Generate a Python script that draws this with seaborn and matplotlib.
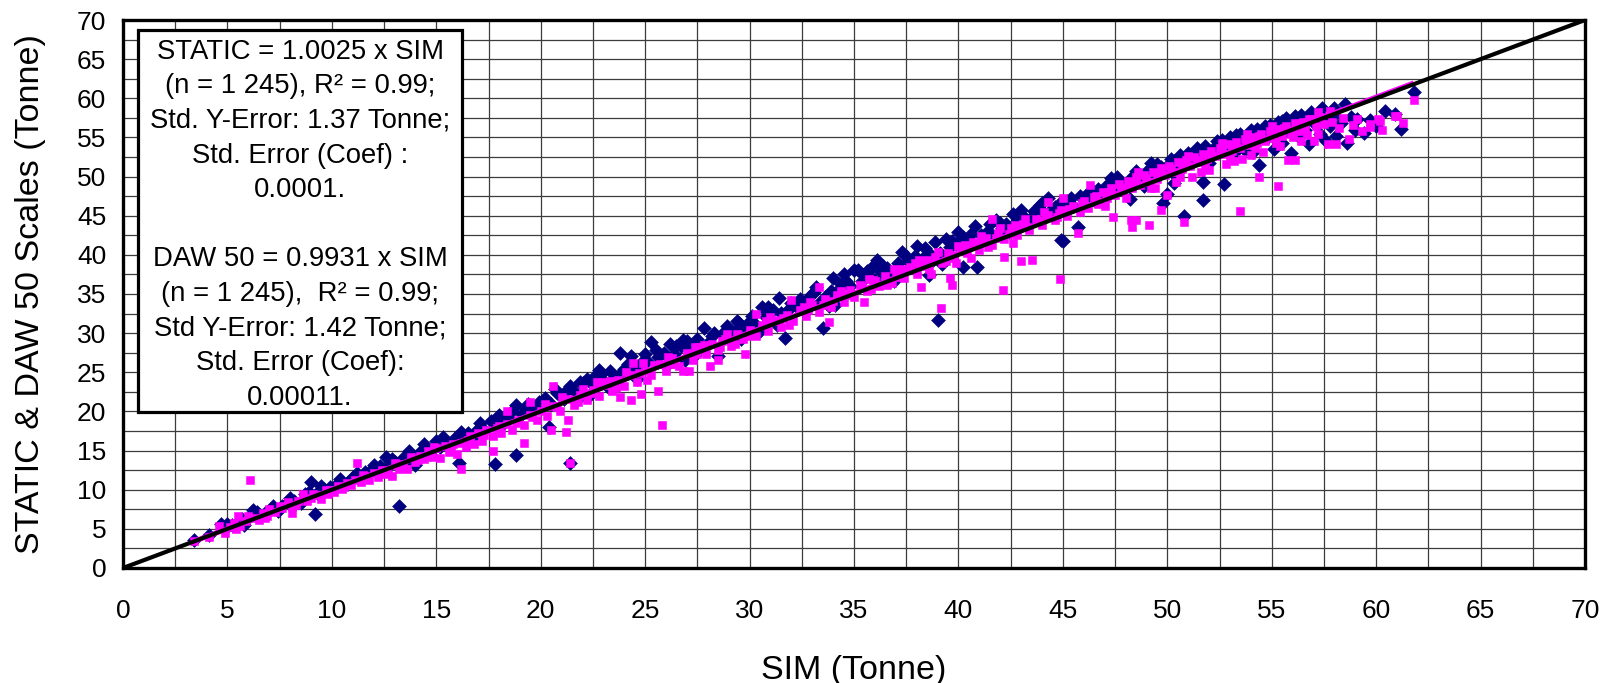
import numpy as np
import pandas as pd
import matplotlib
matplotlib.use("Agg")
import matplotlib.pyplot as plt
from matplotlib.patches import Rectangle
import seaborn as sns

# ---------------- data ----------------
static_sim = [
    3.4, 4.1, 4.7, 4.9, 5.2, 5.5, 5.8, 6.0, 6.2, 6.5, 6.8, 7.1, 7.4, 7.6, 7.9, 8.2, 8.5, 8.7, 9.0, 9.2, 9.3, 9.6, 9.9,
    10.2, 10.5, 10.8, 11.0, 11.3, 11.6, 11.9, 12.1, 12.3, 12.6, 12.8, 13.0, 13.2, 13.4, 13.6, 13.8, 14.0, 14.2, 14.5, 14.7,
    15.0, 15.2, 15.4, 15.7, 15.9, 16.1, 16.3, 16.5, 16.8, 17.0, 17.3, 17.6, 17.8, 18.0, 18.2, 18.5, 18.8, 18.8, 19.1, 19.4, 19.7, 19.9,
    20.2, 20.4, 20.5, 20.8, 21.1, 21.4, 21.4, 21.7, 22.0, 22.2, 22.3, 22.5, 22.8, 23.0, 23.3, 23.5, 23.8, 24.0, 24.3, 24.5,
    24.8, 25.1, 25.3, 25.6, 25.9, 26.0, 26.2, 26.4, 26.7, 27.0, 27.2, 27.5, 27.8, 28.0, 28.3, 28.5, 28.7, 29.0, 29.3, 29.5,
    29.6, 29.8, 30.0, 30.3, 30.6, 30.8, 31.1, 31.3, 31.4, 31.7, 31.9, 32.2, 32.5, 32.7, 33.0, 33.1, 33.5, 33.6, 33.9, 34.0,
    34.1, 34.3, 34.5, 34.8, 35.0,
    35.2, 35.4, 35.6, 35.8, 36.1, 36.3, 36.6, 36.8, 37.1, 37.3, 37.6, 37.8, 38.0, 38.3, 38.6, 38.6, 38.9, 39.0, 39.1, 39.4,
    39.6, 39.9, 40.2, 40.2, 40.5, 40.8, 40.9, 41.1, 41.4, 41.6, 41.8, 42.1, 42.3, 42.6, 42.8, 43.1, 43.3, 43.6, 43.9, 44.1,
    44.3, 44.6, 44.9, 44.9, 45.0, 45.2, 45.5, 45.7, 45.8,
    46.0, 46.2, 46.5, 46.7, 46.9, 47.1, 47.3, 47.5, 47.7, 47.9, 48.2, 48.2, 48.4, 48.6, 48.8, 49.0, 49.2, 49.5, 49.4, 49.7,
    49.8, 49.9, 50.0, 50.1, 50.3, 50.3, 50.5, 50.7, 50.8, 50.9, 51.1, 51.3, 51.5, 51.7, 51.7, 51.7, 51.9, 52.1, 52.3, 52.5,
    52.7, 52.7, 52.9, 53.1, 53.2, 53.4, 53.6, 53.8, 54.0, 54.1, 54.2, 54.4, 54.4, 54.6, 54.8, 55.0, 55.1, 55.2, 55.4, 55.5,
    55.6, 55.8, 55.9, 56.0, 56.2, 56.3, 56.5, 56.7, 56.8, 57.0, 57.2, 57.3,
    50.6, 51.4, 52.4, 53.0, 53.5, 54.3, 54.9, 55.3, 55.7, 56.4,
    57.5, 57.6, 57.8, 58.0, 58.1, 58.3, 58.5, 58.6, 58.8, 59.0, 59.1, 59.4, 59.7, 60.0, 60.4, 60.9, 61.2, 61.8, 57.4, 58.0,
]
static_scale = [
    3.6, 4.2, 5.6, 5.0, 5.5, 5.9, 5.5, 6.4, 7.4, 6.8, 7.0, 7.5, 7.3, 7.9, 8.4, 8.6, 8.3, 9.4, 11.0, 6.9, 9.6, 10.1, 10.3,
    10.6, 11.0, 11.1, 11.6, 11.5, 12.2, 12.6, 12.3, 13.0, 14.2, 13.2, 13.6, 7.9, 14.0, 13.5, 14.5, 13.1, 14.8, 15.2, 14.6,
    16.2, 15.4, 16.0, 15.9, 16.6, 13.4, 16.5, 17.3, 16.9, 17.8, 17.6, 18.8, 13.3, 19.6, 18.4, 19.1, 14.4, 20.8, 19.7, 20.9, 20.2, 21.2,
    21.7, 18.0, 21.0, 22.4, 21.6, 13.4, 23.2, 22.3, 23.6, 24.2, 22.0, 23.4, 25.3, 24.0, 25.1, 24.3, 27.4, 25.4, 27.1, 25.6,
    26.2, 26.5, 28.9, 26.9, 27.4, 25.8, 28.6, 27.3, 28.3, 29.0, 28.1, 29.2, 30.7, 28.8, 30.0, 27.1, 29.9, 30.4, 30.1, 31.3,
    29.3, 30.8, 31.5, 31.0, 33.3, 32.0, 33.0, 31.0, 34.5, 29.4, 33.1, 33.5, 33.2, 34.2, 35.0, 35.2, 30.6, 34.6, 35.4, 37.1,
    33.6, 35.6, 37.5, 36.0, 38.1,
    38.1, 36.7, 38.0, 37.2, 39.3, 37.8, 38.3, 37.6, 39.0, 40.4, 39.2, 38.9, 41.1, 39.6, 37.4, 40.3, 41.6, 31.7, 40.2, 42.0,
    41.0, 41.4, 38.4, 42.3, 41.8, 43.7, 38.4, 42.6, 43.1, 42.1, 44.4, 43.4, 44.0, 45.2, 44.3, 44.9, 44.0, 45.6, 46.4, 45.4,
    47.2, 46.1, 41.9, 46.7, 41.8, 46.9, 46.2, 43.6, 47.5,
    47.2, 47.9, 47.0, 48.4, 47.8, 48.9, 49.8, 48.4, 49.3, 48.9, 47.1, 49.7, 49.2, 50.3, 49.9, 50.6, 51.7, 51.6, 50.2, 51.2,
    46.6, 50.8, 47.8, 51.6, 49.2, 52.0, 51.4, 52.2, 45.0, 51.9, 52.6, 52.0, 53.0, 47.0, 49.3, 52.7, 53.4, 52.9, 53.8, 53.3,
    49.0, 54.2, 53.7, 54.5, 53.0, 54.8, 54.1, 55.1, 54.5, 53.2, 55.4, 51.5, 54.9, 55.8, 55.1, 56.0, 53.5, 55.4, 56.4, 54.3,
    55.7, 56.8, 53.0, 56.1, 57.2, 55.0, 56.6, 57.6, 54.2, 56.9, 58.0, 55.5,
    52.7, 53.6, 54.6, 55.0, 55.4, 56.1, 56.6, 57.0, 57.5, 57.9,
    57.3, 54.5, 56.5, 57.9, 55.2, 56.8, 59.3, 54.3, 57.6, 56.0, 57.4, 55.6, 57.2, 56.5, 58.4, 58.0, 56.1, 60.8, 58.8, 58.7,
]
# further STATIC points read along the dense band
static_sim_band = [
    20.0, 21.2, 22.6, 23.9, 25.0, 26.5, 27.6, 28.9, 30.1, 31.5, 32.4, 33.3, 34.6, 23.2, 27.4, 30.5, 24.6, 29.1,
    35.5, 36.4, 37.0, 37.9, 38.8, 39.7, 40.6, 41.3, 42.0, 42.9, 43.5, 44.4, 36.0, 39.3, 42.4,
    45.4, 46.4, 47.6, 48.5, 49.3, 50.2, 51.0, 51.8, 52.6, 53.3, 54.0, 54.7, 55.5, 56.1, 56.9, 48.9, 50.4, 52.0,
    53.7, 55.3, 56.6,
    5.0, 5.7, 6.4, 7.2, 8.0, 8.9, 9.5, 10.4, 11.2, 12.0, 12.9, 13.7, 14.4, 15.3, 16.2, 17.1, 17.9, 18.6, 19.3,
    20.7, 21.9, 22.9, 24.2, 25.5, 26.8, 28.2, 29.4, 30.9, 32.0, 33.2, 34.4, 35.9, 37.5, 38.4, 40.0, 41.5, 43.0,
    44.0, 39.2, 36.9, 33.8, 26.9, 21.8,
]
static_scale_band = [
    20.6, 22.6, 24.5, 25.0, 27.3, 28.4, 28.6, 30.9, 32.2, 32.6, 34.4, 33.9, 36.7, 23.1, 27.2, 30.3, 24.2, 29.0,
    37.4, 38.6, 37.9, 39.9, 39.4, 41.8, 42.7, 41.9, 44.1, 45.3, 44.8, 45.6, 36.6, 39.6, 42.9,
    47.3, 48.3, 50.0, 50.7, 51.0, 52.3, 53.0, 53.9, 54.7, 55.3, 55.9, 56.4, 57.1, 57.7, 58.3, 48.8, 50.1, 51.7,
    53.4, 54.9, 56.0,
    5.6, 6.2, 7.1, 7.9, 8.9, 9.7, 10.5, 11.4, 12.1, 13.1, 13.9, 14.9, 15.8, 16.7, 17.4, 18.5, 19.2, 20.1, 20.3,
    22.9, 23.8, 24.8, 26.0, 27.8, 29.1, 29.6, 31.6, 33.4, 33.9, 35.9, 36.3, 38.6, 39.8, 40.9, 42.9, 44.0, 45.7,
    46.6, 38.8, 36.6, 33.5, 26.6, 21.6,
]

daw_sim = [
    3.4, 4.1, 4.6, 4.9, 5.1, 5.3, 5.5, 5.6, 5.9, 6.1, 6.3, 6.5, 6.7, 6.9, 7.0, 7.3, 7.6, 7.9, 8.1, 8.1, 8.4, 8.6, 8.8, 9.0,
    9.3, 9.5, 9.7, 9.9,
    10.1, 10.3, 10.5, 10.7, 10.9, 11.1, 11.2, 11.4, 11.6, 11.8, 12.0, 12.2, 12.4, 12.7, 12.9, 13.0, 13.2, 13.4, 13.6, 13.8,
    14.0, 14.2, 14.4, 14.6, 14.8, 15.0, 15.2, 15.4, 15.6, 15.8, 16.0, 16.2, 16.2, 16.4, 16.6, 16.8, 17.0, 17.2, 17.4, 17.7,
    17.7, 17.9, 18.1, 18.4, 18.4, 18.6, 18.9, 19.2, 19.2, 19.5, 19.5, 19.8,
    20.0, 20.3, 20.5, 20.6, 20.6, 20.9, 21.2, 21.3, 21.4, 21.3, 21.6, 21.9, 22.2, 22.5, 22.8, 23.1, 23.4, 23.8, 23.7, 24.0,
    24.3, 24.3, 24.4, 24.6, 24.8, 24.9, 25.0, 25.3, 25.6, 25.8, 25.7, 26.0, 26.3, 26.6, 26.8, 27.0, 27.1, 27.3, 27.6, 27.9,
    28.1, 28.2, 28.5, 28.5, 28.8, 29.1, 29.4, 29.8, 29.7, 30.0, 30.3, 30.3, 30.6, 30.9, 31.2, 31.5, 31.8, 32.0, 32.1, 32.4,
    32.7, 33.0, 33.3, 33.3, 33.8, 33.6, 33.9, 34.2, 34.5, 34.8,
    21.0, 22.7, 24.1, 26.1, 27.4, 28.9, 31.0, 32.9, 34.4,
    35.0, 35.3, 35.5, 35.6, 35.9, 36.2, 36.5, 36.8, 37.1, 37.4, 37.7, 38.0, 38.2, 38.3, 38.6, 38.9, 39.15, 39.2, 39.5, 39.6,
    39.7, 39.8, 40.1, 40.4, 40.7, 41.0, 41.3, 41.6, 41.6, 41.9, 42.15, 42.2, 42.2, 42.5, 42.8, 43.0, 43.1, 43.4, 43.5, 43.7,
    44.0, 44.3, 44.3, 44.6, 44.86, 44.9, 45.0, 45.2, 45.5, 45.7, 45.8,
    35.7, 36.9, 38.1, 39.0, 40.0, 41.1, 42.0, 43.2, 44.1, 38.7, 40.6, 42.6,
    46.0, 46.2, 46.3, 46.5, 46.7, 46.9, 47.1, 47.4, 47.3, 47.5, 47.7, 47.9, 48.1, 48.26, 48.3, 48.3, 48.5, 48.5, 48.6, 48.7,
    48.9, 49.1, 49.1, 49.3, 49.5, 49.7, 49.7, 49.9, 50.0, 50.1, 50.3, 50.5, 50.7, 50.8, 50.9, 51.1, 51.3, 51.5, 51.7, 51.9,
    52.1, 52.3, 52.5, 52.7, 52.9, 53.1, 53.3, 53.5, 53.5, 53.7, 53.9, 54.0, 54.1, 54.3, 54.4, 54.5, 54.7, 54.9, 55.1, 55.3,
    55.3, 55.5, 55.7, 55.8, 55.9, 56.1, 56.1, 56.3, 56.5, 56.7, 56.9, 57.0, 57.1, 57.3,
    47.0, 48.0, 49.4, 50.4, 51.2, 51.6, 52.0, 52.8, 53.2, 53.6, 54.6, 55.4, 56.4, 51.0, 52.6, 53.8, 55.0,
    57.5, 57.7, 57.9, 58.1, 58.2, 58.4, 58.7, 58.9, 59.1, 59.3, 59.7, 59.7, 60.1, 60.2, 60.3, 60.9, 61.0, 61.3, 61.8,
    57.2, 57.8,
]
daw_scale = [
    3.5, 3.9, 5.4, 4.5, 5.2, 5.7, 6.6, 5.4, 6.0, 11.3, 6.4, 6.1, 7.0, 6.6, 7.5, 7.1, 7.6, 8.4, 7.0, 7.8, 8.6, 9.4, 8.5, 8.9,
    9.3, 8.8, 9.9, 10.0,
    9.7, 10.5, 10.1, 10.9, 10.6, 11.2, 13.4, 11.0, 11.7, 11.3, 12.1, 11.6, 12.5, 12.0, 11.8, 13.4, 12.7, 13.3, 12.6, 14.2,
    13.5, 14.3, 13.9, 14.9, 14.2, 15.3, 14.1, 15.6, 14.8, 15.9, 14.5, 12.6, 16.0, 15.4, 16.8, 15.9, 17.2, 16.2, 17.6, 14.9,
    16.9, 17.9, 17.3, 20.0, 18.4, 17.6, 18.9, 16.0, 18.3, 21.2, 19.5, 18.9,
    20.1, 19.4, 17.6, 23.2, 20.7, 20.1, 17.4, 18.9, 13.4, 21.6, 20.8, 22.1, 21.4, 22.8, 22.0, 23.4, 22.6, 21.9, 24.0, 23.2,
    21.5, 24.6, 26.2, 23.8, 22.2, 26.2, 25.2, 24.6, 22.6, 18.3, 26.0, 25.2, 26.8, 25.8, 25.2, 27.4, 25.1, 26.6, 28.2, 27.3,
    25.8, 28.6, 26.6, 27.8, 29.2, 28.4, 29.9, 27.3, 29.2, 30.4, 32.4, 29.6, 31.1, 30.3, 31.7, 30.8, 32.3, 34.2, 31.5, 33.0,
    32.2, 33.6, 35.9, 32.7, 31.4, 34.3, 33.3, 34.9, 34.0, 35.5,
    21.9, 23.7, 25.0, 27.0, 28.2, 29.9, 32.0, 34.0, 35.4,
    34.6, 36.1, 34.0, 35.4, 36.8, 36.0, 37.3, 36.4, 37.8, 37.0, 38.5, 37.6, 35.9, 39.0, 38.2, 39.7, 33.2, 38.9, 40.3, 37.1,
    36.2, 39.6, 41.0, 40.2, 41.6, 40.6, 42.2, 44.6, 41.2, 42.8, 35.5, 39.7, 42.0, 43.4, 42.5, 39.2, 44.0, 43.2, 39.3, 44.6,
    43.8, 46.7, 45.1, 44.4, 36.9, 45.7, 47.2, 44.9, 46.3, 42.8, 45.5,
    36.9, 38.2, 39.3, 40.4, 41.1, 42.4, 43.4, 44.6, 45.5, 37.6, 39.6, 41.5,
    46.9, 46.0, 48.9, 47.4, 46.5, 48.0, 47.2, 44.8, 48.5, 47.6, 49.0, 48.1, 49.4, 44.5, 43.6, 48.5, 44.5, 49.9, 50.6, 48.9,
    50.2, 43.8, 49.3, 50.6, 49.7, 45.7, 51.1, 50.2, 47.7, 51.4, 50.6, 51.8, 51.0, 44.2, 52.1, 51.4, 52.5, 51.8, 52.9, 52.2,
    53.3, 52.6, 53.7, 52.9, 54.1, 53.3, 54.4, 45.6, 53.6, 54.8, 54.0, 52.8, 55.1, 54.3, 50.0, 55.5, 54.6, 55.8, 54.9, 48.8,
    56.1, 55.2, 56.5, 52.1, 55.5, 52.1, 56.8, 55.8, 57.0, 55.3, 57.3, 54.6, 56.4, 57.6,
    46.2, 47.3, 48.6, 49.3, 50.0, 50.6, 50.8, 51.6, 52.0, 52.3, 53.2, 53.9, 54.6, 52.6, 54.3, 55.5, 56.5,
    56.7, 54.1, 57.0, 54.1, 56.2, 57.5, 54.8, 56.6, 57.4, 55.8, 56.7, 56.3, 57.3, 57.1, 55.9, 57.8, 57.7, 56.8, 59.8,
    58.2, 58.4,
]
# further DAW 50 points read along the dense band
daw_sim_band = [
    20.2, 21.8, 23.0, 23.6, 25.4, 26.4, 27.8, 28.6, 29.9, 30.8, 31.6, 32.6, 33.5, 34.7, 22.0, 25.1, 29.3, 31.9,
    35.4, 36.0, 37.3, 37.9, 38.5, 39.4, 40.3, 40.9, 41.8, 42.7, 43.3, 44.2, 44.8, 36.6, 39.9, 41.4, 43.9,
    45.3, 45.9, 46.6, 47.2, 47.8, 48.4, 49.0, 49.6, 50.2, 50.8, 51.4, 52.0, 52.6, 53.2, 53.8, 54.4, 55.0, 55.6,
    56.2, 56.8, 50.6, 51.8, 53.0, 54.2, 55.2, 56.0, 56.6, 57.2, 49.2, 48.0,
    5.4, 6.0, 6.8, 7.5, 8.3, 9.1, 9.8, 10.6, 11.5, 12.3, 13.1, 14.1, 14.9, 15.7, 16.5, 17.3, 18.0, 18.8, 19.6,
    20.8, 22.4, 23.3, 24.7, 26.2, 27.5, 28.7, 30.1, 31.4, 32.8, 34.0, 35.8, 37.0, 38.4, 39.7, 41.2, 42.4, 43.8,
    44.7,
]
daw_scale_band = [
    21.0, 21.2, 23.7, 23.0, 25.9, 26.0, 28.5, 28.2, 29.6, 31.5, 31.9, 33.4, 33.6, 34.9, 22.9, 24.0, 28.6, 31.0,
    35.9, 36.6, 38.2, 38.9, 39.4, 39.2, 41.3, 41.4, 42.1, 43.8, 43.6, 44.9, 45.3, 36.1, 39.0, 41.0, 44.2,
    45.9, 46.6, 47.5, 48.0, 48.6, 49.1, 49.8, 50.4, 51.0, 51.6, 52.1, 52.8, 53.4, 54.0, 54.5, 55.2, 55.7, 56.2,
    56.7, 57.3, 50.0, 51.2, 52.2, 53.6, 54.3, 55.0, 56.1, 55.4, 48.5, 48.6,
    5.0, 6.6, 6.4, 7.9, 8.0, 9.5, 9.4, 10.4, 11.9, 12.0, 13.2, 13.8, 15.4, 15.3, 16.3, 17.0, 18.2, 18.5, 19.3,
    20.6, 22.3, 23.9, 24.9, 26.1, 27.3, 29.0, 30.0, 31.6, 33.0, 34.1, 35.6, 37.2, 38.6, 40.0, 41.6, 42.7, 44.3,
    44.8,
]

static_coef = 1.0025
fit_range = [3.3, 61.8]
axis_ticks = list(range(0, 71, 5))

box_text = ("STATIC = 1.0025 x SIM\n"
            "(n = 1 245), R\u00b2 = 0.99;\n"
            "Std. Y-Error: 1.37 Tonne;\n"
            "Std. Error (Coef) :\n"
            "0.0001.\n"
            "\n"
            "DAW 50 = 0.9931 x SIM\n"
            "(n = 1 245),  R\u00b2 = 0.99;\n"
            "Std Y-Error: 1.42 Tonne;\n"
            "Std. Error (Coef):\n"
            "0.00011.")

assert len(static_sim) == len(static_scale)
assert len(daw_sim) == len(daw_scale)
assert len(static_sim_band) == len(static_scale_band)
assert len(daw_sim_band) == len(daw_scale_band)

# ---------------- figure ----------------
sns.set_style("white")
plt.rcParams['font.family'] = ['Liberation Sans', 'DejaVu Sans']

fig = plt.figure(figsize=(16.02, 6.83), dpi=100)
ax = fig.add_axes([0.0768, 0.1684, 0.9126, 0.8023])

df_static = pd.DataFrame({"SIM": static_sim + static_sim_band,
                          "Scale": static_scale + static_scale_band})
df_daw = pd.DataFrame({"SIM": daw_sim + daw_sim_band,
                       "Scale": daw_scale + daw_scale_band})

sns.scatterplot(data=df_static, x="SIM", y="Scale", marker="D", s=50, color="#000080",
                edgecolor="#000080", linewidth=0.4, ax=ax, zorder=2, legend=False)
sns.scatterplot(data=df_daw, x="SIM", y="Scale", marker="s", s=38, color="#FF00FF",
                edgecolor="#FF00FF", linewidth=0.4, ax=ax, zorder=3, legend=False)

# fitted line (magenta) and 1:1 line (black)
fx = np.array(fit_range)
ax.plot(fx, static_coef * fx, color="#FF00FF", lw=3.6, zorder=4, solid_capstyle="butt")
ax.plot([0, 70], [0, 70], color="black", lw=3.0, zorder=5)

ax.set_xlim(0, 70)
ax.set_ylim(0, 70)
ax.set_xticks(axis_ticks)
ax.set_yticks(axis_ticks)
ax.set_xticks(np.arange(2.5, 70, 5), minor=True)
ax.set_yticks(np.arange(2.5, 70, 5), minor=True)
ax.grid(which="both", color="#3c3c3c", lw=0.9)
ax.set_axisbelow(True)

ax.tick_params(axis="both", which="major", direction="out", length=6, width=1.2,
               color="black", labelcolor="black")
ax.tick_params(axis="x", which="major", pad=16)
ax.tick_params(axis="y", which="major", pad=6)
ax.tick_params(axis="both", which="minor", length=0)
for lab in ax.get_xticklabels() + ax.get_yticklabels():
    lab.set_fontsize(19)

for sp in ax.spines.values():
    sp.set_visible(True)
    sp.set_color("black")
    sp.set_linewidth(2.4)
    sp.set_zorder(10)

ax.set_xlabel("SIM (Tonne)", fontsize=24.5, color="black")
ax.set_ylabel("STATIC & DAW 50 Scales (Tonne)", fontsize=24.5, color="black")
ax.xaxis.set_label_coords(0.5, -0.158)
ax.yaxis.set_label_coords(-0.0525, 0.5)

# annotation box
rect = Rectangle((0.72, 19.93), 16.23 - 0.72, 68.7 - 19.93, facecolor="white",
                 edgecolor="black", lw=2.3, zorder=8)
ax.add_patch(rect)
ax.text((0.72 + 16.23) / 2, 43.85, box_text, ha="center", va="center", fontsize=19.8,
        linespacing=1.43, color="black", zorder=9)

fig.savefig("out.png", dpi=100)
